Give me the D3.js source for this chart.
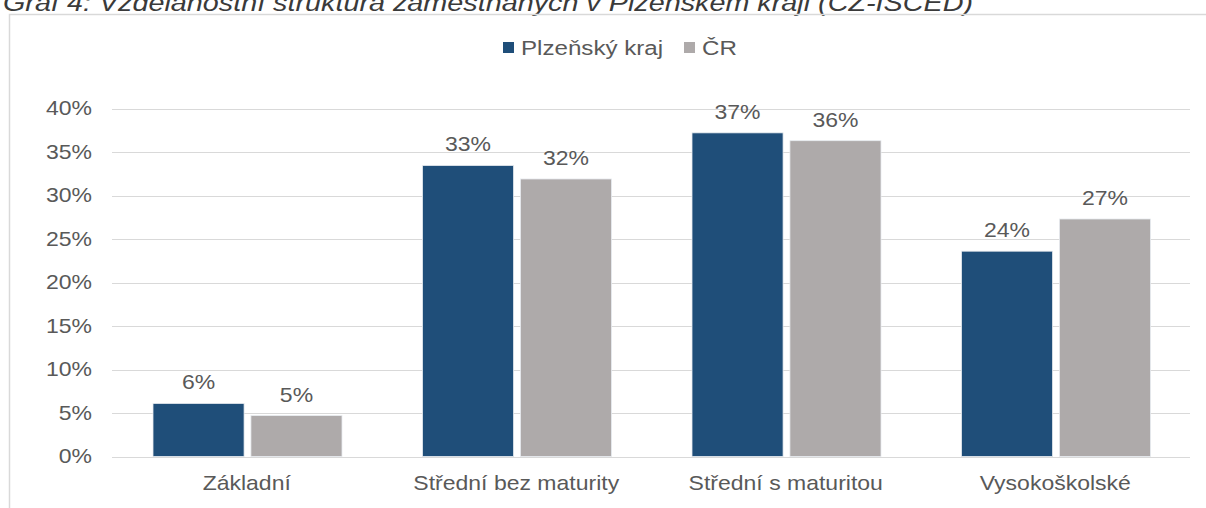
<!DOCTYPE html>
<html>
<head>
<meta charset="utf-8">
<script src="https://cdn.jsdelivr.net/npm/d3@7"></script>
<style>
  html, body { margin: 0; padding: 0; background: #fff; }
  svg { display: block; }
  text { font-family: "Liberation Sans", Arial, sans-serif; }
</style>
</head>
<body>
<svg id="chart" width="1206" height="508"></svg>
<script>
const title = "Graf 4: Vzdělanostní struktura zaměstnaných v Plzeňském kraji (CZ-ISCED)";
const categories = ["Základní", "Střední bez maturity", "Střední s maturitou", "Vysokoškolské"];
const seriesNames = ["Plzeňský kraj", "ČR"];
const plzenValues = [6.1, 33.45, 37.2, 23.6];
const crValues = [4.7, 31.9, 36.3, 27.3];
const yTicks = [0, 5, 10, 15, 20, 25, 30, 35, 40];
const colors = ["#1F4E79", "#AEAAAA"];

const svg = d3.select("#chart");
const W = 1206, H = 508;
const textColor = "#595959";
const stretch = "scale(1.15,1)";

// title (partially cut at top, as in the source image)
svg.append("text")
  .attr("x", 3).attr("y", 11)
  .attr("font-size", 23)
  .attr("font-style", "italic")
  .attr("fill", "#3a3a3a")
  .attr("textLength", 970)
  .attr("lengthAdjust", "spacingAndGlyphs")
  .text(title);

// chart frame
svg.append("path")
  .attr("d", `M9.5,${H} V14.5 H${W}`)
  .attr("fill", "none")
  .attr("stroke", "#d9d9d9")
  .attr("stroke-width", 1.5);

const x = d3.scaleBand().domain(categories).range([112, 1190]).padding(0);
const xSub = d3.scaleBand().domain(seriesNames).range([41, 230]).paddingInner(0.07);
const y = d3.scaleLinear().domain([0, 40]).range([456.5, 108.5]);

// gridlines
svg.append("g").selectAll("line").data(yTicks).join("line")
  .attr("x1", 112).attr("x2", 1190)
  .attr("y1", d => Math.round(y(d)) + 0.5).attr("y2", d => Math.round(y(d)) + 0.5)
  .attr("stroke", "#d9d9d9").attr("stroke-width", 1);

// y axis labels
const yAxis = d3.axisLeft(y).tickValues(yTicks).tickSize(0).tickPadding(0)
  .tickFormat(d => d + "%");
const yg = svg.append("g").attr("transform", "translate(92,0)").call(yAxis);
yg.select(".domain").remove();
yg.selectAll("text").attr("font-size", 20).attr("fill", textColor)
  .attr("font-family", "Liberation Sans, Arial, sans-serif")
  .attr("transform", stretch);

// x axis labels
const xAxis = d3.axisBottom(x).tickSize(0).tickPadding(0);
const xg = svg.append("g").attr("transform", "translate(0,476)").call(xAxis);
xg.select(".domain").remove();
xg.selectAll("text").attr("font-size", 20).attr("fill", textColor)
  .attr("font-family", "Liberation Sans, Arial, sans-serif")
  .attr("transform", stretch);

// bars
const data = categories.map((c, i) => ({
  cat: c,
  vals: [{s: seriesNames[0], v: plzenValues[i]}, {s: seriesNames[1], v: crValues[i]}]
}));
const fmt = d3.format(".0%");
const groups = svg.append("g").selectAll("g").data(data).join("g")
  .attr("transform", d => `translate(${x(d.cat)},0)`);
groups.selectAll("rect").data(d => d.vals).join("rect")
  .attr("x", d => xSub(d.s))
  .attr("width", xSub.bandwidth())
  .attr("y", d => y(d.v))
  .attr("height", d => y(0) - y(d.v))
  .attr("fill", (d, i) => colors[i])
  .attr("stroke", "#e8ecf0").attr("stroke-width", 0.8);
groups.selectAll("g.lbl").data(d => d.vals).join("g")
  .attr("class", "lbl")
  .attr("transform", d => `translate(${xSub(d.s) + xSub.bandwidth() / 2},${y(d.v) - 14})`)
  .append("text")
  .attr("text-anchor", "middle")
  .attr("font-size", 20)
  .attr("fill", textColor)
  .attr("transform", stretch)
  .text(d => fmt(d.v / 100));

// legend
const legend = svg.append("g").attr("transform", "translate(503,42)");
const legX = [0, 181];
seriesNames.forEach((s, i) => {
  const g = legend.append("g").attr("transform", `translate(${legX[i]},0)`);
  g.append("rect").attr("width", 11).attr("height", 11).attr("fill", colors[i]);
  g.append("g").attr("transform", "translate(18,13)")
    .append("text").attr("font-size", 21)
    .attr("fill", textColor).attr("transform", stretch).text(s);
});
</script>
</body>
</html>
